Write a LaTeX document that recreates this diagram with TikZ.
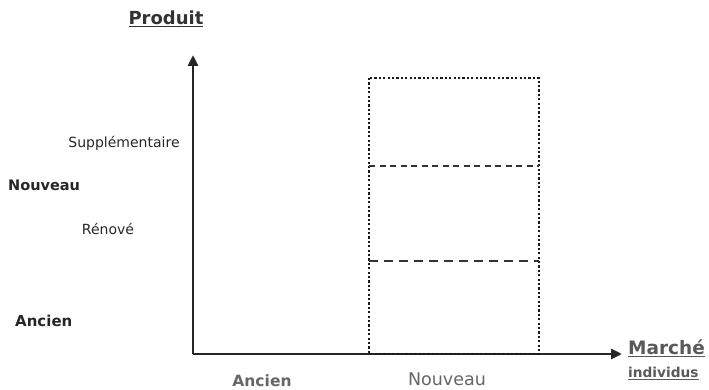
\documentclass[tikz,border=0pt]{standalone}
\usepackage{fontspec}
\setmainfont{DejaVu Sans}
\usetikzlibrary{arrows.meta}
\begin{document}
\begin{tikzpicture}[x=1pt,y=-1pt,
  axis/.style={draw=black!85, line width=2.8pt, -{Triangle[length=11pt,width=10pt]}},
  lbl/.style={inner sep=0pt, text=black!85},
  dimlbl/.style={inner sep=0pt, text=black!60, anchor=base},
  ul/.style={inner sep=0pt}]
\useasboundingbox (0,0) rectangle (709,390);
% axes
\coordinate (o) at (193,354);
\coordinate (ytop) at (193,55);
\coordinate (xend) at (622,354);
\draw[axis] (o) -- (ytop);
\draw[axis] (o) -- (xend);
% region of the new market
\coordinate (r1) at (369,78);
\coordinate (r2) at (539,354);
\draw[dash pattern=on 2.2pt off 2.2pt, line width=2.6pt, black!90] (r1) rectangle (r2);
\coordinate (d1a) at (369,166);
\coordinate (d1b) at (539,166);
\coordinate (d2a) at (369,261);
\coordinate (d2b) at (539,261);
\draw[dash pattern=on 6pt off 4.5pt, line width=1.7pt, black!80] (d1a) -- (d1b);
\draw[dash pattern=on 9pt off 6pt, line width=2.6pt, black!80] (d2a) -- (d2b);
% axis titles
\node[ul, font=\fontsize{18}{18}\selectfont\bfseries, text=black!80] (prod) at (166,19) {\underline{Produit}};
\node[ul, font=\fontsize{18.5}{18.5}\selectfont\bfseries, text=black!65, anchor=west] (marche) at (628,348) {\underline{Marché}};
\node[ul, font=\fontsize{13.7}{13.7}\selectfont\bfseries, text=black!65, anchor=west] (indiv) at (628,373) {\underline{individus}};
% product levels
\node[lbl, font=\fontsize{14}{14}\selectfont] (supp) at (124,143) {Supplémentaire};
\node[lbl, font=\fontsize{14.5}{14.5}\selectfont\bfseries, anchor=west] (nouv) at (8,185) {Nouveau};
\node[lbl, font=\fontsize{14}{14}\selectfont] (reno) at (108,229) {Rénové};
\node[lbl, font=\fontsize{15}{15}\selectfont\bfseries, anchor=west] (anc) at (15,321) {Ancien};
% market levels
\node[dimlbl, font=\fontsize{15.5}{15.5}\selectfont\bfseries] (ancx) at (262,386) {Ancien};
\node[dimlbl, font=\fontsize{17.5}{17.5}\selectfont] (nouvx) at (447,385) {Nouveau};
\end{tikzpicture}
\end{document}
